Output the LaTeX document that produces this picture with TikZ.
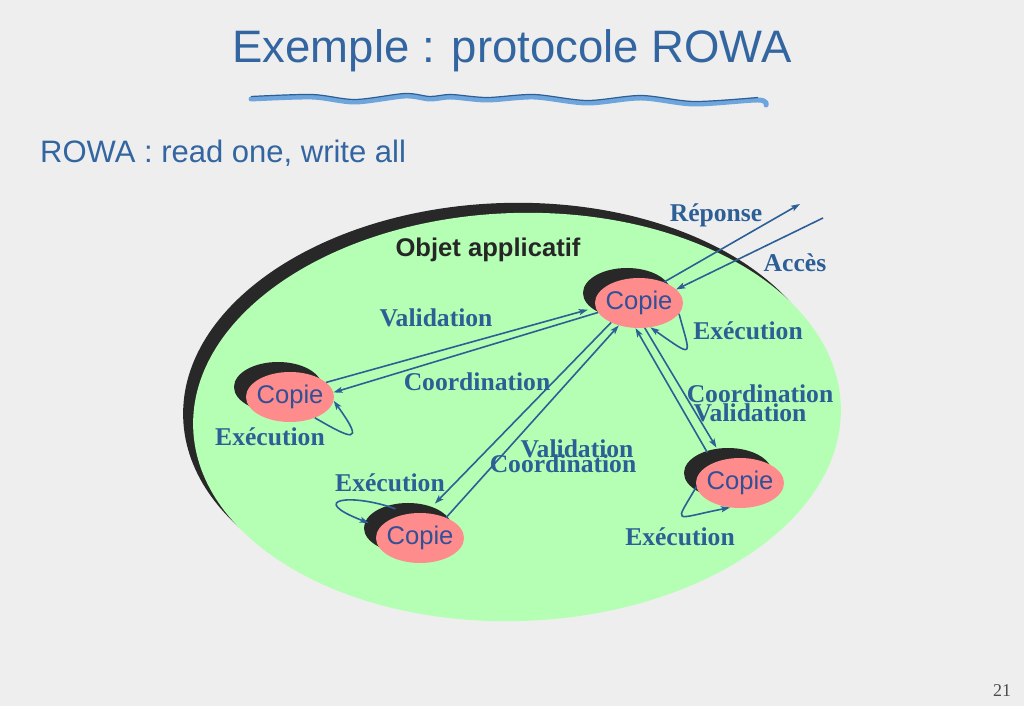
\documentclass[tikz,border=0pt]{standalone}
\usepackage{fontspec}
\setmainfont{Liberation Serif}
\newfontfamily\arial{Liberation Sans}
\usetikzlibrary{shapes,arrows.meta,shadows}
\definecolor{fond}{RGB}{238,238,238}
\definecolor{vert}{RGB}{180,255,180}
\definecolor{rose}{RGB}{255,140,140}
\definecolor{ombre}{RGB}{40,40,40}
\definecolor{bleu}{RGB}{45,95,150}
\definecolor{titre}{RGB}{51,102,160}
\definecolor{copietxt}{RGB}{50,80,150}
\definecolor{vague}{RGB}{110,165,220}
\begin{document}
\begin{tikzpicture}[x=1pt,y=1pt,>={Stealth[length=9pt,width=6pt,inset=2pt]}]
\tikzstyle{copie}=[ellipse,fill=rose,minimum width=88pt,minimum height=50pt,inner xsep=-6pt,inner ysep=0pt,text=copietxt,font=\arial\fontsize{25.6}{28}\selectfont,drop shadow={shadow xshift=-12pt,shadow yshift=10pt,opacity=1,fill=ombre}]
\tikzstyle{lab}=[anchor=base,inner sep=0pt,text=bleu,font=\bfseries\fontsize{25.6}{28}\selectfont]
\tikzstyle{fl}=[bleu,line width=1.6pt,->]
\useasboundingbox (0,0) rectangle (1024,706);
\fill[fond] (0,0) rectangle (1024,706);
\node[anchor=base,inner sep=0pt,text=titre,font=\arial\fontsize{45.5}{50}\selectfont] (titre) at (512,643) {Exemple : protocole ROWA};
\draw[vague,line width=5pt,line cap=round] plot[smooth] coordinates {(251,607) (312,609) (355,604) (405,610) (430,607) (451,609) (487,606) (534,609) (587,603) (641,608) (694,602) (758,606) (766,601)};
\draw[bleu,line width=1.2pt] plot[smooth] coordinates {(251,609.5) (312,611.5) (355,606.5) (405,612.5) (430,609.5) (451,611.5) (487,608.5) (534,611.5) (587,605.5) (641,610.5) (694,604.5) (758,608.5)};
\node[anchor=base west,inner sep=0pt,text=titre,font=\arial\fontsize{31}{34}\selectfont] (rowa) at (40,543) {ROWA : read one, write all};
\fill[ombre,rotate around={2:(507,299)}] (507,299) ellipse [x radius=324,y radius=204];
\fill[vert,rotate around={2:(517,289)}] (517,289) ellipse [x radius=324,y radius=204];
\node[anchor=base,inner sep=0pt,text=black!85,font=\arial\bfseries\fontsize{25.6}{28}\selectfont] (obj) at (488,449) {Objet applicatif};
\node[copie] (cT) at (639,403) {Copie};
\node[copie] (cL) at (290,309) {Copie};
\node[copie] (cB) at (420,168) {Copie};
\node[copie] (cR) at (740,223) {Copie};
\coordinate (sortie) at (800,502);
\coordinate (entree) at (823,488);
\draw[fl,shorten >=8pt] (cL.22) -- (cT.186);
\draw[fl] (cT.193) -- (cL.6);
\draw[fl,shorten >=13pt] (cT.215) -- (cB.77);
\draw[fl] (cB.38) -- (cT.228);
\draw[fl,shorten <=12pt] (cR.143) -- (cT.262);
\draw[fl,shorten >=14pt] (cT.283) -- (cR.125);
\draw[fl] (cT.40) -- (sortie);
\draw[fl] (entree) -- (cT.20);
\draw[fl] (cT.-15) .. controls +(-75:45) and +(-35:55) .. (cT.-65);
\draw[fl] (cL.-40) .. controls +(-30:40) and +(-54:57) .. (cL.-5);
\draw[fl,shorten <=14pt,shorten >=12pt] (cB.115) .. controls +(160:60) and +(159:80) .. (cB.165);
\draw[fl] (cR.185) .. controls +(-120:45) and +(191:59) .. (cR.-112);
\node[lab] (val1) at (436,379) {Validation};
\node[lab] (coo1) at (477,315) {Coordination};
\node[lab] (exL) at (270,260) {Exécution};
\node[lab] (exB) at (390,214) {Exécution};
\node[lab] (val2) at (577,248) {Validation};
\node[lab] (coo2) at (563,233) {Coordination};
\node[lab] (exT) at (748,366) {Exécution};
\node[lab] (coo3) at (760,303) {Coordination};
\node[lab] (val3) at (750,284) {Validation};
\node[lab] (exR) at (680,160) {Exécution};
\node[lab] (lrep) at (716,484) {Réponse};
\node[lab] (lacc) at (795,434) {Accès};
\node[anchor=base,inner sep=0pt,text=black!70,font=\fontsize{18}{20}\selectfont] (num) at (1002,10) {21};
\end{tikzpicture}
\end{document}
